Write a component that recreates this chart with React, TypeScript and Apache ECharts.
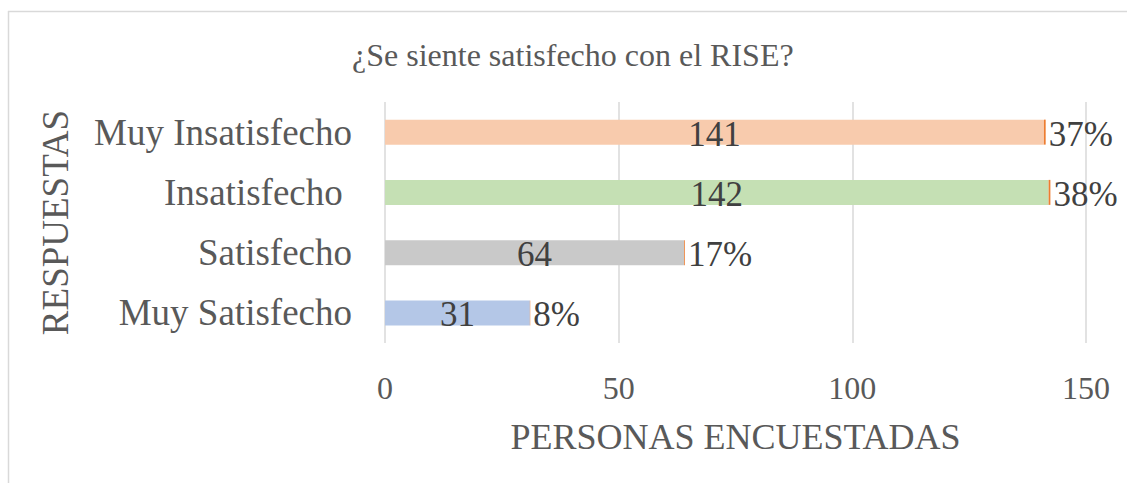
import React, { useEffect, useRef } from "react";
import * as echarts from "echarts";

const categories = ["Muy Satisfecho", "Satisfecho", "Insatisfecho ", "Muy Insatisfecho"];
const counts = [31, 64, 142, 141];
const percents = [0.08, 0.17, 0.38, 0.37];
const barColors = ["#B4C7E7", "#C9C9C9", "#C5E0B4", "#F8CBAD"];
const titleText = "¿Se siente satisfecho con el RISE?";
const xName = "PERSONAS ENCUESTADAS";
const yName = "RESPUESTAS";

const FONT = "'Liberation Serif', 'Times New Roman', serif";

export default function App() {
  const ref = useRef<HTMLDivElement>(null);
  useEffect(() => {
    if (!ref.current) return;
    const chart = echarts.init(ref.current, undefined, { renderer: "svg" });
    chart.setOption({
      animation: false,
      backgroundColor: "#ffffff",
      textStyle: { fontFamily: FONT },
      title: {
        text: titleText,
        left: 347,
        top: 34,
        textStyle: { fontFamily: FONT, fontSize: 32, fontWeight: "normal", color: "#595959" },
      },
      graphic: [
        { type: "line", shape: { x1: 8, y1: 11.5, x2: 1127, y2: 11.5 }, style: { stroke: "#D9D9D9", lineWidth: 1.5 } },
        { type: "line", shape: { x1: 8.5, y1: 11, x2: 8.5, y2: 483 }, style: { stroke: "#D9D9D9", lineWidth: 1.5 } },
      ],
      grid: { left: 385, right: 41, top: 102, bottom: 140, containLabel: false },
      xAxis: {
        type: "value",
        min: 0,
        max: 150,
        interval: 50,
        name: xName,
        nameLocation: "middle",
        nameGap: 76,
        nameTextStyle: { fontFamily: FONT, fontSize: 36, color: "#595959" },
        axisLine: { show: false },
        axisTick: { show: false },
        axisLabel: { fontFamily: FONT, fontSize: 32, color: "#595959", margin: 29 },
        splitLine: { show: true, lineStyle: { color: "#D9D9D9", width: 1.5 } },
      },
      yAxis: {
        type: "category",
        data: categories,
        name: yName,
        nameLocation: "middle",
        nameRotate: 90,
        nameGap: 311,
        nameTextStyle: { fontFamily: FONT, fontSize: 37, color: "#595959" },
        axisLine: { show: false },
        axisTick: { show: false },
        axisLabel: { fontFamily: FONT, fontSize: 37, color: "#595959", margin: 33 },
        splitLine: { show: false },
      },
      series: [
        {
          type: "bar",
          stack: "total",
          barWidth: 25,
          data: counts.map((v, i) => ({ value: v, itemStyle: { color: barColors[i] } })),
          label: {
            show: true,
            position: "inside",
            fontFamily: FONT,
            fontSize: 35,
            color: "#404040",
            offset: [0, 2],
          },
        },
        {
          type: "bar",
          stack: "total",
          barWidth: 25,
          data: percents,
          itemStyle: { color: "#ED7D31" },
          label: {
            show: true,
            position: "right",
            distance: 3,
            fontFamily: FONT,
            fontSize: 35,
            color: "#404040",
            offset: [0, 2],
            formatter: (p: any) => Math.round(p.value * 100) + "%",
          },
        },
      ],
    });
    return () => chart.dispose();
  }, []);
  return (
    <div
      ref={ref}
      style={{ position: "fixed", left: 0, top: 0, width: 1127, height: 483, background: "#fff" }}
    />
  );
}
